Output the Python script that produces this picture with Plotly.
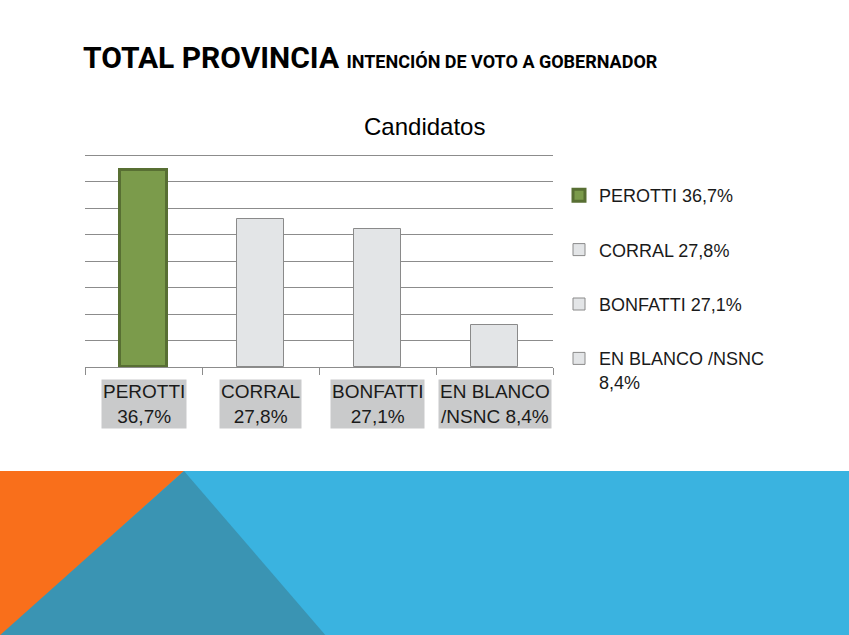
import plotly.graph_objects as go

# ---- data ----
categories = ["PEROTTI", "CORRAL", "BONFATTI", "EN BLANCO /NSNC"]
values = [37.1, 27.9, 26.0, 7.9]          # bar heights
axis_labels = ["PEROTTI<br>36,7%", "CORRAL<br>27,8%", "BONFATTI<br>27,1%", "EN BLANCO<br>/NSNC 8,4%"]
legend_names = ["PEROTTI 36,7%", "CORRAL 27,8%", "BONFATTI 27,1%", "EN BLANCO /NSNC<br>8,4%"]
y_ticks = [0, 5, 10, 15, 20, 25, 30, 35, 40]

# ---- styles ----
W, H = 849, 635
L, R, T, B = 85, 553, 154, 367
Y_MAX = 40.2
TITLE_FONT = "Roboto, Liberation Sans, sans-serif"
TEXT_FONT = "Liberation Sans, Arial, sans-serif"
fills = ["#7b9b4b", "#e3e5e7", "#e3e5e7", "#e3e5e7"]
edges = ["#586f33", "#8a8a8a", "#8a8a8a", "#8a8a8a"]
edge_w = [3, 1, 1, 1]

def px(x):
    return (x - L) / (R - L)

def py(y):
    return (B - y) / (B - T)

fig = go.Figure()
for i, c in enumerate(categories):
    fig.add_trace(go.Bar(
        x=[c], y=[values[i]], name=legend_names[i], width=0.4,
        marker=dict(color=fills[i], line=dict(color=edges[i], width=edge_w[i])),
        legendgroup=f"g{i}", hoverinfo="skip",
    ))

annotations = []
for i, c in enumerate(categories):
    annotations.append(dict(
        x=c, y=0, xref="x", yref="y", text=axis_labels[i], showarrow=False,
        yanchor="top", yshift=-12, align="center",
        font=dict(family=TEXT_FONT, size=19, color="#1a1a1a"),
        bgcolor="#c9cacb", borderpad=1,
    ))

# titles
annotations.append(dict(
    x=px(81), y=py(58), xref="paper", yref="paper", xanchor="left", yanchor="middle",
    showarrow=False,
    text="<b>TOTAL PROVINCIA</b> <span style='font-size:18px'><b>INTENCIÓN DE VOTO A GOBERNADOR</b></span>",
    font=dict(family=TITLE_FONT, size=30, color="#000000"),
))
annotations.append(dict(
    x=px(424), y=py(127), xref="paper", yref="paper", xanchor="center", yanchor="middle",
    showarrow=False, text="Candidatos",
    font=dict(family=TEXT_FONT, size=24, color="#000000"),
))

# decorative background band
shapes = [
    dict(type="rect", xref="paper", yref="paper", x0=px(-2), x1=px(W + 2), y0=py(H + 2), y1=py(471),
         fillcolor="#3ab3e0", line=dict(width=0), layer="below"),
    dict(type="path", xref="paper", yref="paper",
         path=f"M {px(-2)},{py(471)} L {px(184)},{py(471)} L {px(-2)},{py(638)} Z",
         fillcolor="#f96f1b", line=dict(width=0), layer="below"),
    dict(type="path", xref="paper", yref="paper",
         path=f"M {px(184)},{py(471)} L {px(327)},{py(637)} L {px(-2)},{py(637)} Z",
         fillcolor="#3a94b3", line=dict(width=0), layer="below"),
]

fig.update_layout(
    width=W, height=H,
    margin=dict(l=L, r=W - R, t=T, b=H - B),
    paper_bgcolor="#ffffff", plot_bgcolor="#ffffff",
    barmode="overlay", bargap=0,
    font=dict(family=TEXT_FONT, color="#1a1a1a"),
    showlegend=True,
    legend=dict(
        x=px(559), y=py(177), xanchor="left", yanchor="top",
        font=dict(family=TEXT_FONT, size=18, color="#1a1a1a"),
        tracegroupgap=28, valign="top", bgcolor="rgba(0,0,0,0)",
        itemwidth=30, maxheight=400,
    ),
    xaxis=dict(
        categoryorder="array", categoryarray=categories,
        showticklabels=False, showline=True, linecolor="#8c8c8c", linewidth=1,
        ticks="outside", tickson="boundaries", ticklen=7, tickcolor="#8c8c8c",
        showgrid=False, fixedrange=True,
    ),
    yaxis=dict(
        range=[0, Y_MAX], tickvals=y_ticks, showticklabels=False,
        showgrid=True, gridcolor="#8c8c8c", gridwidth=1,
        zeroline=False, showline=False, fixedrange=True,
    ),
    annotations=annotations,
    shapes=shapes,
)

fig.write_html(
    "out.html",
    config={"displayModeBar": False},
    post_script="document.body.style.margin='0';document.body.style.overflow='hidden';",
)
